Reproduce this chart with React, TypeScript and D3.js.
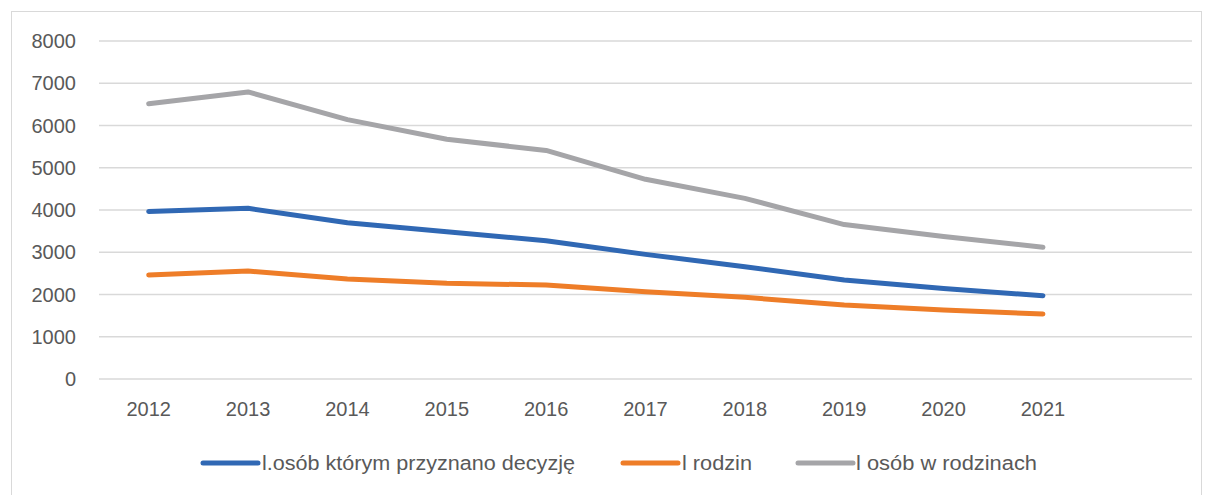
import React from 'react';
import * as d3 from 'd3';

// years on the x axis; the empty slot on the right is kept like in the source chart
const years = ['2012', '2013', '2014', '2015', '2016', '2017', '2018', '2019', '2020', '2021'];
const slots = [...years, ''];

const decyzje = [3965, 4040, 3700, 3487, 3274, 2950, 2658, 2343, 2140, 1972];
const rodziny = [2461, 2556, 2367, 2264, 2225, 2067, 1933, 1751, 1633, 1538];
const osobyWRodzinach = [6515, 6795, 6140, 5673, 5410, 4726, 4276, 3655, 3375, 3117];

const yTicks = [0, 1000, 2000, 3000, 4000, 5000, 6000, 7000, 8000];

const series = [
  { name: 'l.osób którym przyznano decyzję', values: decyzje, color: '#3068B4' },
  { name: 'l rodzin', values: rodziny, color: '#EE7D28' },
  { name: 'l osób w rodzinach', values: osobyWRodzinach, color: '#A5A5A8' },
];

const W = 1206;
const H = 495;

export default function App() {
  const x = d3.scaleBand<string>().domain(slots).range([99, 1192]);
  const y = d3.scaleLinear().domain([0, 8000]).range([379, 41]);

  const line = d3
    .line<number>()
    .x((_, i) => (x(years[i]) as number) + x.bandwidth() / 2)
    .y((v) => y(v));

  // legend layout (line swatch + label)
  const legend = [
    { sx: 203, tx: 262, tw: 313 },
    { sx: 623, tx: 682, tw: 70 },
    { sx: 798, tx: 856, tw: 181 },
  ];

  const font = '"Liberation Sans", Arial, sans-serif';

  return (
    <svg
      width={W}
      height={H}
      style={{ position: 'absolute', left: 0, top: 0, background: '#fff' }}
    >
      <rect x={11.5} y={11.5} width={1190} height={500} fill="#fff" stroke="#D9D9D9" />

      {/* gridlines */}
      {yTicks.map((t) => (
        <line key={t} x1={99} x2={1192} y1={y(t)} y2={y(t)} stroke="#D9D9D9" strokeWidth={1.3} />
      ))}

      {/* y labels */}
      {yTicks.map((t) => (
        <text
          key={'l' + t}
          x={76}
          y={y(t)}
          dy="0.36em"
          textAnchor="end"
          fontFamily={font}
          fontSize={20}
          fill="#595959"
        >
          {t}
        </text>
      ))}

      {/* x labels */}
      {years.map((yr) => (
        <text
          key={yr}
          x={(x(yr) as number) + x.bandwidth() / 2}
          y={409}
          dy="0.36em"
          textAnchor="middle"
          fontFamily={font}
          fontSize={20}
          fill="#595959"
        >
          {yr}
        </text>
      ))}

      {/* series */}
      {series.map((s) => (
        <path
          key={s.name}
          d={line(s.values) || ''}
          fill="none"
          stroke={s.color}
          strokeWidth={5}
          strokeLinecap="round"
          strokeLinejoin="round"
        />
      ))}

      {/* legend */}
      {series.map((s, i) => (
        <g key={'lg' + i}>
          <line
            x1={legend[i].sx}
            x2={legend[i].sx + 55}
            y1={463}
            y2={463}
            stroke={s.color}
            strokeWidth={5}
            strokeLinecap="round"
          />
          <text
            x={legend[i].tx}
            y={463}
            dy="0.36em"
            fontFamily={font}
            fontSize={20}
            fill="#595959"
            textLength={legend[i].tw}
            lengthAdjust="spacingAndGlyphs"
          >
            {s.name}
          </text>
        </g>
      ))}
    </svg>
  );
}
